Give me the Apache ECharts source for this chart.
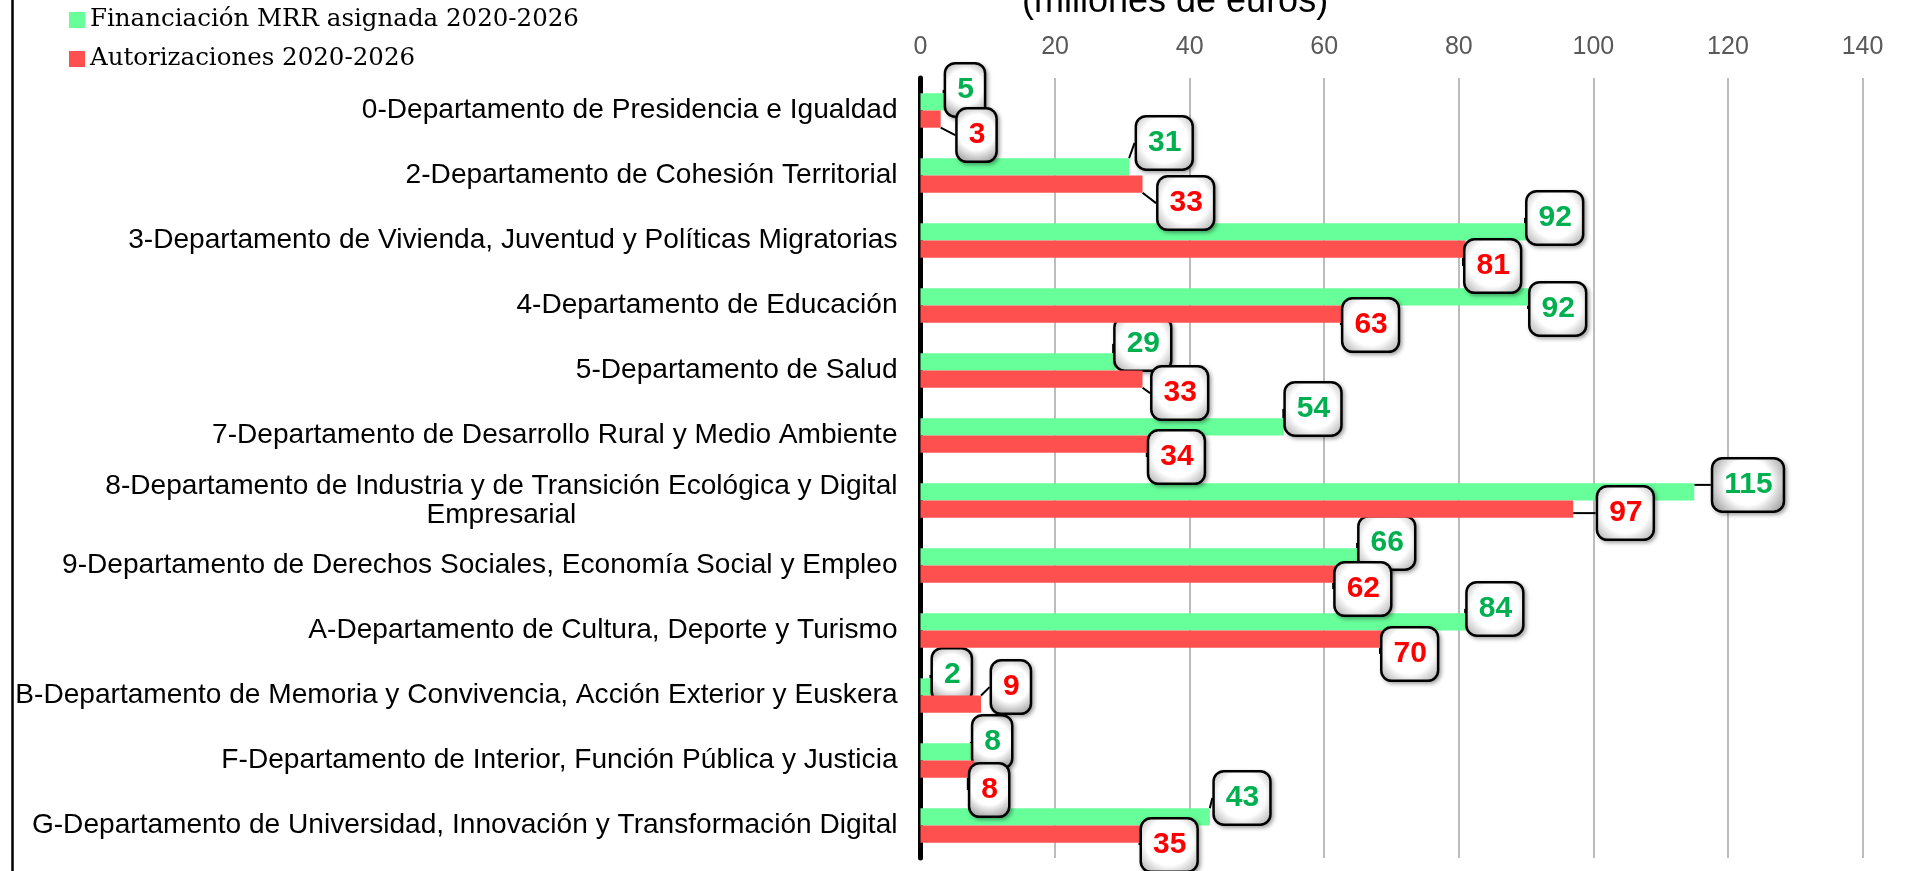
<!DOCTYPE html>
<html>
<head>
<meta charset="utf-8">
<script src="https://cdn.jsdelivr.net/npm/echarts@6/dist/echarts.min.js"></script>
<style>
html,body{margin:0;padding:0;background:#fff;}
#chart{width:1906px;height:871px;}
</style>
</head>
<body>
<div id="chart"></div>
<script>
const categories = [
  "0-Departamento de Presidencia e Igualdad",
  "2-Departamento de Cohesión Territorial",
  "3-Departamento de Vivienda, Juventud y Políticas Migratorias",
  "4-Departamento de Educación",
  "5-Departamento de Salud",
  "7-Departamento de Desarrollo Rural y Medio Ambiente",
  "8-Departamento de Industria y de Transición Ecológica y Digital\nEmpresarial",
  "9-Departamento de Derechos Sociales, Economía Social y Empleo",
  "A-Departamento de Cultura, Deporte y Turismo",
  "B-Departamento de Memoria y Convivencia, Acción Exterior y Euskera",
  "F-Departamento de Interior, Función Pública y Justicia",
  "G-Departamento de Universidad, Innovación y Transformación Digital"
];
const financiacionMRR = [5, 31, 92, 92, 29, 54, 115, 66, 84, 2, 8, 43];
const autorizaciones = [3, 33, 81, 63, 33, 34, 97, 62, 70, 9, 8, 35];
const seriesNames = ["Financiación MRR asignada 2020-2026", "Autorizaciones 2020-2026"];
const titleText = "(millones de euros)";

// Callout nudges (layout only, pixels relative to the bar end), as placed in the original
const greenCalloutNudge = {
  dx: [-8, 8, -12, -9, 0, 2, 19, -5, -18, -1, -1, 5],
  dy: [-12, -24, -14, 12, -18, -18, -7, -14, -13, -12, -10, -19]
};
const redCalloutNudge = {
  dx: [17, 16, 0, -1, 10, 0, 25, -2, -9, 11, -4, -14],
  dy: [16, 19, 17, 11, 14, 13, 4, 15, 15, -17, 21, 11]
};

const SANS = "'Liberation Sans', Arial, sans-serif";
const chart = echarts.init(document.getElementById('chart'), null, {renderer: 'canvas'});

function calloutLabel(color) {
  return {
    show: true,
    position: 'right',
    distance: 0,
    color: color,
    fontFamily: SANS,
    fontWeight: 'bold',
    fontSize: 30,
    lineHeight: 30,
    backgroundColor: {
      type: 'radial', x: 0.5, y: 0.45, r: 0.75,
      colorStops: [
        {offset: 0, color: '#ffffff'},
        {offset: 0.55, color: '#ffffff'},
        {offset: 1, color: '#a0a0a0'}
      ]
    },
    borderColor: '#000000',
    borderWidth: 2.5,
    borderRadius: 9,
    padding: [13, 10, 8, 11],
    shadowColor: 'rgba(0,0,0,0.3)',
    shadowBlur: 4,
    shadowOffsetX: 2,
    shadowOffsetY: 2
  };
}

const option = {
  animation: false,
  backgroundColor: '#ffffff',
  textStyle: {fontFamily: SANS},
  title: {
    text: titleText,
    left: 1022,
    top: -16,
    padding: 0,
    textStyle: {fontFamily: SANS, fontSize: 36, fontWeight: 'normal', color: '#000000'}
  },
  legend: {
    orient: 'vertical',
    left: 69,
    top: 5,
    padding: 0,
    itemWidth: 16,
    itemHeight: 16,
    itemGap: 9,
    icon: 'rect',
    data: seriesNames,
    textStyle: {fontFamily: "'DejaVu Serif', 'Liberation Serif', serif", fontSize: 24.5, lineHeight: 30, color: '#000000'}
  },
  grid: {left: 920.5, right: 43.5, top: 78, bottom: 13, containLabel: false},
  xAxis: {
    type: 'value',
    position: 'top',
    min: 0,
    max: 140,
    interval: 20,
    axisLine: {show: false},
    axisTick: {show: false},
    axisLabel: {color: '#595959', fontSize: 25, fontFamily: SANS, margin: 18},
    splitLine: {show: true, lineStyle: {color: '#A6A6A6', width: 1.5}}
  },
  yAxis: {
    type: 'category',
    inverse: true,
    data: categories,
    axisLine: {show: true, onZero: false, lineStyle: {color: '#000000', width: 5}},
    axisTick: {show: false},
    axisLabel: {
      margin: 23,
      formatter: function (v) {
        return v.split('\n').map(function (l) { return '{c|' + l + '}'; }).join('\n');
      },
      rich: {
        c: {fontFamily: SANS, fontSize: 28.1, lineHeight: 29, color: '#000000', align: 'center'}
      }
    }
  },
  series: [
    {
      name: seriesNames[0],
      type: 'bar',
      z: 3,
      data: financiacionMRR,
      barGap: '0%',
      barCategoryGap: '47%',
      itemStyle: {color: '#66FF99'},
      label: calloutLabel('#00B050'),
      labelLayout: function (p) {
        return {dx: greenCalloutNudge.dx[p.dataIndex], dy: greenCalloutNudge.dy[p.dataIndex]};
      },
      labelLine: {show: true, lineStyle: {color: '#000000', width: 2}}
    },
    {
      name: seriesNames[1],
      type: 'bar',
      z: 4,
      data: autorizaciones,
      barGap: '0%',
      barCategoryGap: '47%',
      itemStyle: {color: '#FF5050'},
      label: calloutLabel('#FF0000'),
      labelLayout: function (p) {
        return {dx: redCalloutNudge.dx[p.dataIndex], dy: redCalloutNudge.dy[p.dataIndex]};
      },
      labelLine: {show: true, lineStyle: {color: '#000000', width: 2}}
    }
  ],
  graphic: [
    {type: 'line', shape: {x1: 12.5, y1: 0, x2: 12.5, y2: 871}, style: {stroke: '#000000', lineWidth: 2.5}, silent: true}
  ]
};
chart.setOption(option);
</script>
</body>
</html>
